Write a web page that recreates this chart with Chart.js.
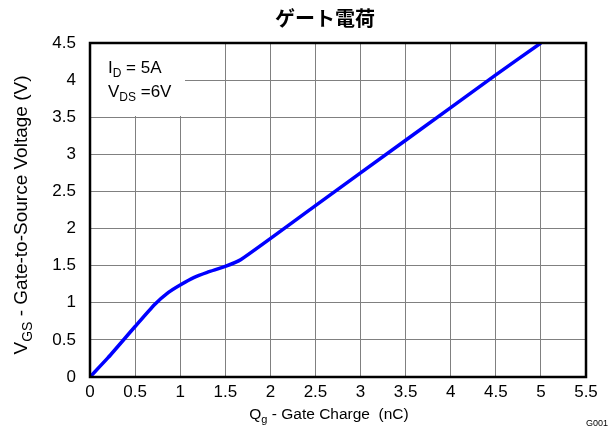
<!DOCTYPE html>
<html>
<head>
<meta charset="utf-8">
<script src="https://cdn.jsdelivr.net/npm/chart.js"></script>
<style>
  body { margin: 0; background: #fff; }
  #wrap { width: 615px; height: 432px; }
</style>
</head>
<body>
<div id="wrap"><canvas id="gateChart" width="615" height="432"></canvas></div>
<script>
// gate charge curve
const charge = [0, 0.2, 0.5, 0.72, 0.87, 1.0, 1.15, 1.3, 1.5, 1.67, 2.5, 3.5, 4.5, 5.0];
const vgs = [0, 0.26, 0.68, 0.98, 1.14, 1.24, 1.34, 1.41, 1.49, 1.58, 2.31, 3.19, 4.07, 4.5];
const xTicks = [0, 0.5, 1, 1.5, 2, 2.5, 3, 3.5, 4, 4.5, 5, 5.5];
const yTicks = [0, 0.5, 1, 1.5, 2, 2.5, 3, 3.5, 4, 4.5];

const FONT = '"Liberation Sans", Arial, sans-serif';

// draws text made of normal + subscript pieces
function drawParts(ctx, parts, x, y, size){
  let cx = x;
  parts.forEach(p => {
    const s = p.sub ? Math.round(size * 0.72) : size;
    ctx.font = s + 'px ' + FONT;
    ctx.fillText(p.t, cx, p.sub ? y + size * 0.25 : y);
    cx += ctx.measureText(p.t).width;
  });
  return cx - x;
}
function partsWidth(ctx, parts, size){
  let w = 0;
  parts.forEach(p => {
    const s = p.sub ? Math.round(size * 0.72) : size;
    ctx.font = s + 'px ' + FONT;
    w += ctx.measureText(p.t).width;
  });
  return w;
}

const decorPlugin = {
  id: 'decor',
  beforeDatasetsDraw(chart){
    const {ctx, scales:{x, y}} = chart;
    // white box behind the conditions note
    ctx.save();
    ctx.fillStyle = '#fff';
    ctx.fillRect(x.getPixelForValue(0) + 1, y.getPixelForValue(4.5) + 1, 94, 72);
    ctx.restore();
  },
  afterDraw(chart){
    const {ctx, chartArea:a} = chart;
    ctx.save();
    ctx.strokeStyle = '#000';
    ctx.lineWidth = 2.5;
    ctx.strokeRect(a.left, a.top, a.right - a.left, a.bottom - a.top);

    ctx.fillStyle = '#000';
    ctx.textBaseline = 'alphabetic';
    ctx.textAlign = 'left';
    drawParts(ctx, [{t:'I'}, {t:'D', sub:true}, {t:' = 5A'}], a.left + 18, a.top + 30, 17);
    drawParts(ctx, [{t:'V'}, {t:'DS', sub:true}, {t:' =6V'}], a.left + 18, a.top + 54, 17);

    // title
    ctx.font = 'bold 20px "Noto Sans CJK JP", sans-serif';
    ctx.textAlign = 'center';
    ctx.textBaseline = 'middle';
    ctx.fillText('ゲート電荷', 325, 18);

    // x axis title
    ctx.textAlign = 'left';
    ctx.textBaseline = 'alphabetic';
    const xt = [{t:'Q'}, {t:'g', sub:true}, {t:' - Gate Charge  (nC)'}];
    const xw = partsWidth(ctx, xt, 15.5);
    drawParts(ctx, xt, 329 - xw / 2, 419, 15.5);

    // y axis title
    const yt = [{t:'V'}, {t:'GS', sub:true}, {t:' - Gate-to-Source Voltage (V)'}];
    const yw = partsWidth(ctx, yt, 19);
    ctx.translate(27, 215);
    ctx.rotate(-Math.PI / 2);
    drawParts(ctx, yt, -yw / 2, 0, 19);
    ctx.restore();

    ctx.save();
    ctx.font = '9px ' + FONT;
    ctx.fillStyle = '#000';
    ctx.textAlign = 'left';
    ctx.fillText('G001', 586, 426);
    ctx.restore();
  }
};

new Chart(document.getElementById('gateChart'), {
  type: 'scatter',
  data: {
    datasets: [{
      data: charge.map((c, i) => ({x: c, y: vgs[i]})),
      showLine: true,
      borderColor: '#0000ff',
      borderWidth: 3.5,
      pointRadius: 0,
      tension: 0.2
    }]
  },
  options: {
    responsive: false,
    animation: false,
    layout: { padding: { top: 43, right: 29, left: 0, bottom: 0 } },
    scales: {
      x: {
        type: 'linear',
        min: 0, max: 5.5,
        afterBuildTicks: s => { s.ticks = xTicks.map(v => ({value: v})); },
        afterFit: s => { s.height = 55; },
        ticks: { color: '#000', padding: 5, font: { family: FONT, size: 17 }, maxRotation: 0,
          callback: v => String(v) },
        grid: { color: '#808080', lineWidth: 1, drawTicks: false },
        border: { display: false }
      },
      y: {
        min: 0, max: 4.5,
        afterBuildTicks: s => { s.ticks = yTicks.map(v => ({value: v})); },
        afterFit: s => { s.width = 90; },
        ticks: { color: '#000', padding: 14, font: { family: FONT, size: 17 },
          callback: v => String(v) },
        grid: { color: '#808080', lineWidth: 1, drawTicks: false },
        border: { display: false }
      }
    },
    plugins: {
      legend: { display: false },
      tooltip: { enabled: false }
    }
  },
  plugins: [decorPlugin]
});
</script>
</body>
</html>
